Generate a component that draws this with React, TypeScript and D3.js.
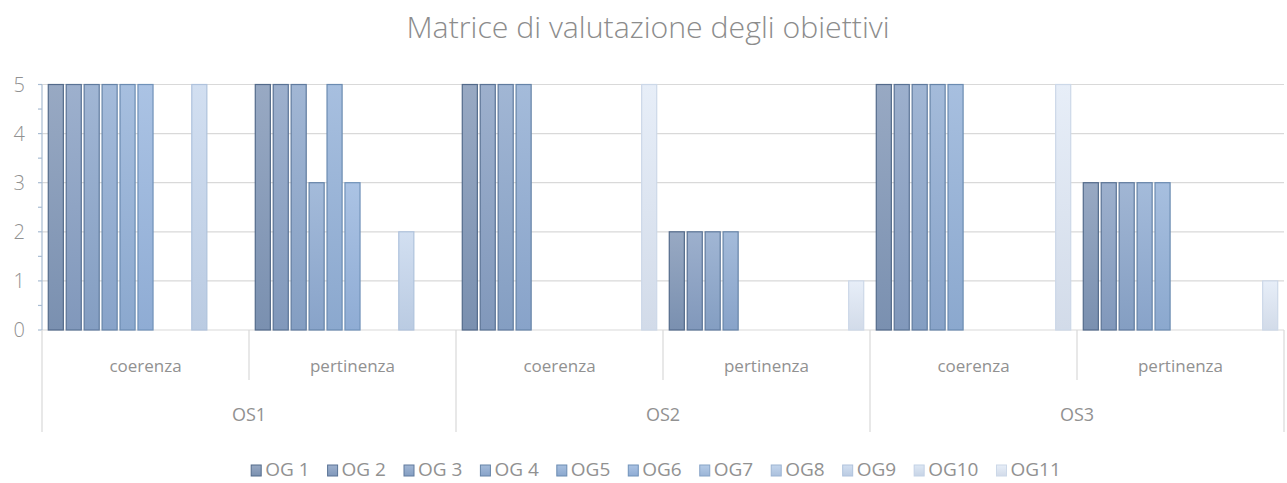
import React, { useEffect, useRef } from "react";
import * as d3 from "d3";

// categories: outer group (OS) and inner group (criterion)
const groups = ["OS1", "OS2", "OS3"];
const criteria = ["coerenza", "pertinenza"];
const series = ["OG 1", "OG 2", "OG 3", "OG 4", "OG5", "OG6", "OG7", "OG8", "OG9", "OG10", "OG11"];

// values per series, in order OS1-coe, OS1-per, OS2-coe, OS2-per, OS3-coe, OS3-per
const og1 = [5, 5, 5, 2, 5, 3];
const og2 = [5, 5, 5, 2, 5, 3];
const og3 = [5, 5, 5, 2, 5, 3];
const og4 = [5, 3, 5, 2, 5, 3];
const og5 = [5, 5, 0, 0, 5, 3];
const og6 = [5, 3, 0, 0, 0, 0];
const og7 = [0, 0, 0, 0, 0, 0];
const og8 = [0, 0, 0, 0, 0, 0];
const og9 = [5, 2, 0, 0, 0, 0];
const og10 = [0, 0, 0, 0, 0, 0];
const og11 = [0, 0, 5, 1, 5, 1];
const values = [og1, og2, og3, og4, og5, og6, og7, og8, og9, og10, og11];

const yTicks = [0, 1, 2, 3, 4, 5];

const colors = [
  "#8196b6", "#889fc2", "#8ca6ca", "#90acd2", "#94b1d8", "#98b6de",
  "#a5c0e2", "#b6cce8", "#c8d8ee", "#d6e2f2", "#e2eaf6",
];
const borders = [
  "#536a8a", "#5a7395", "#607b9e", "#6684a8", "#6b8bb1", "#7092b9",
  "#86a3c6", "#9bb3d2", "#afc2dc", "#c2d1e5", "#ccd8e8",
];

const W = 1287;
const H = 483;
const FONT = "'Open Sans', 'Liberation Sans', sans-serif";
const TXT = "#919191";
const GRID = "#d9d9d9";

export default function App() {
  const ref = useRef<SVGSVGElement>(null);

  useEffect(() => {
    const svg = d3.select(ref.current);
    svg.selectAll("*").remove();

    const left = 42,
      right = 1284,
      top = 84.5,
      bottom = 330;

    const cats = groups.flatMap((g) => criteria.map((c) => `${g}|${c}`));

    const x0 = d3.scaleBand().domain(cats).range([left, right]);
    const x1 = d3
      .scaleBand()
      .domain(series)
      .range([0, x0.bandwidth()])
      .paddingInner(0.16)
      .paddingOuter(0.35);
    const y = d3.scaleLinear().domain([0, 5]).range([bottom, top]);

    const defs = svg.append("defs");
    colors.forEach((c, i) => {
      const g = defs
        .append("linearGradient")
        .attr("id", `grad${i}`)
        .attr("x1", 0)
        .attr("y1", 0)
        .attr("x2", 0)
        .attr("y2", 1);
      g.append("stop").attr("offset", "0%").attr("stop-color", d3.interpolateRgb(c, "#ffffff")(0.18));
      g.append("stop").attr("offset", "100%").attr("stop-color", d3.interpolateRgb(c, "#3d5678")(0.1));
    });

    // title
    svg
      .append("text")
      .attr("x", 648)
      .attr("y", 38)
      .attr("text-anchor", "middle")
      .attr("font-family", FONT)
      .attr("font-weight", 300)
      .attr("font-size", 29)
      .attr("fill", "#8c8c8c")
      .attr("textLength", 483)
      .attr("lengthAdjust", "spacingAndGlyphs")
      .text("Matrice di valutazione degli obiettivi");

    // gridlines
    svg
      .append("g")
      .selectAll("line")
      .data(yTicks)
      .join("line")
      .attr("x1", left)
      .attr("x2", right)
      .attr("y1", (d) => y(d))
      .attr("y2", (d) => y(d))
      .attr("stroke", GRID)
      .attr("stroke-width", 1.2);

    // y axis line and ticks
    const yAxis = svg.append("g");
    yAxis
      .append("line")
      .attr("x1", left)
      .attr("x2", left)
      .attr("y1", top)
      .attr("y2", bottom)
      .attr("stroke", "#a9bcd2")
      .attr("stroke-width", 1.2);
    yAxis
      .selectAll("line.tick")
      .data(d3.range(0, 5.01, 0.5))
      .join("line")
      .attr("class", "tick")
      .attr("x1", left - 4)
      .attr("x2", left)
      .attr("y1", (d) => y(d))
      .attr("y2", (d) => y(d))
      .attr("stroke", "#a9bcd2")
      .attr("stroke-width", 1.2);
    yAxis
      .selectAll("text")
      .data(yTicks)
      .join("text")
      .attr("x", 25)
      .attr("y", (d) => y(d) + 7)
      .attr("text-anchor", "end")
      .attr("font-family", FONT)
      .attr("font-weight", 300)
      .attr("font-size", 20)
      .attr("fill", TXT)
      .text((d) => d);

    // category separators
    const sep = svg.append("g");
    cats.forEach((c, i) => {
      const xs = x0(c)!;
      const long = i % 2 === 0;
      sep
        .append("line")
        .attr("x1", xs)
        .attr("x2", xs)
        .attr("y1", bottom)
        .attr("y2", long ? 432 : 380)
        .attr("stroke", GRID)
        .attr("stroke-width", 1.2);
    });
    sep
      .append("line")
      .attr("x1", right)
      .attr("x2", right)
      .attr("y1", bottom)
      .attr("y2", 432)
      .attr("stroke", GRID)
      .attr("stroke-width", 1.2);

    // inner labels
    svg
      .append("g")
      .selectAll("text")
      .data(cats)
      .join("text")
      .attr("x", (d) => x0(d)! + x0.bandwidth() / 2)
      .attr("y", 372)
      .attr("text-anchor", "middle")
      .attr("font-family", FONT)
      .attr("font-size", 17)
      .attr("fill", TXT)
      .text((d) => d.split("|")[1]);

    // outer labels
    svg
      .append("g")
      .selectAll("text")
      .data(groups)
      .join("text")
      .attr("x", (g) => x0(`${g}|${criteria[0]}`)! + x0.bandwidth())
      .attr("y", 421)
      .attr("text-anchor", "middle")
      .attr("font-family", FONT)
      .attr("font-size", 18)
      .attr("fill", TXT)
      .text((g) => g);

    // bars
    const bars = svg.append("g");
    series.forEach((s, si) => {
      bars
        .append("g")
        .selectAll("rect")
        .data(cats.map((c, ci) => ({ c, v: values[si][ci] })).filter((d) => d.v > 0))
        .join("rect")
        .attr("x", (d) => x0(d.c)! + x1(s)!)
        .attr("y", (d) => y(d.v))
        .attr("width", x1.bandwidth())
        .attr("height", (d) => y(0) - y(d.v))
        .attr("fill", `url(#grad${si})`)
        .attr("stroke", borders[si])
        .attr("stroke-width", 1.2);
    });

    // legend
    const leg = svg.append("g");
    let cx = 0;
    const gap = 18;
    series.forEach((s, si) => {
      const g = leg.append("g").attr("transform", `translate(${cx},0)`);
      g.append("rect")
        .attr("x", 0)
        .attr("y", -11)
        .attr("width", 10)
        .attr("height", 11)
        .attr("fill", `url(#grad${si})`)
        .attr("stroke", borders[si])
        .attr("stroke-width", 1);
      const t = g
        .append("text")
        .attr("x", 14)
        .attr("y", 0)
        .attr("font-family", FONT)
        .attr("font-size", 19)
        .attr("fill", TXT)
        .text(s);
      const tw = (t.node() as SVGTextElement).getComputedTextLength();
      cx += 14 + tw + gap;
    });
    const total = cx - gap;
    leg.attr("transform", `translate(${656 - total / 2},476)`);
  }, []);

  return (
    <div style={{ position: "absolute", left: 0, top: 0 }}>
      <svg ref={ref} width={W} height={H} style={{ display: "block", background: "#fff" }} />
    </div>
  );
}
